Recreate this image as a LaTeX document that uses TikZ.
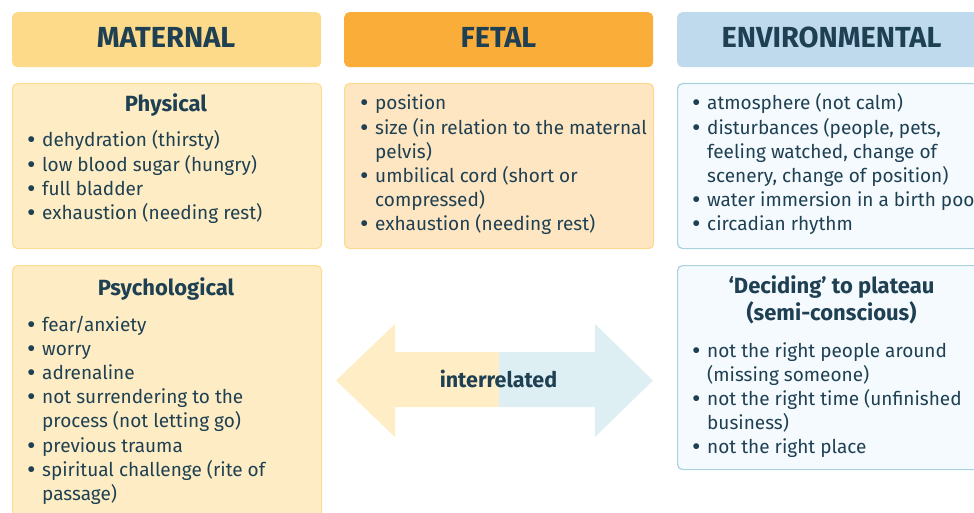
\documentclass[tikz,border=0pt]{standalone}
\usepackage{fontspec}
\setmainfont{Fira Sans}
\definecolor{ink}{RGB}{30,64,82}
\definecolor{hdmat}{RGB}{252,218,138}
\definecolor{hdfet}{RGB}{251,173,58}
\definecolor{hdenv}{RGB}{190,218,236}
\definecolor{matfill}{RGB}{254,237,196}
\definecolor{matline}{RGB}{252,222,150}
\definecolor{fetfill}{RGB}{254,230,194}
\definecolor{fetline}{RGB}{252,219,145}
\definecolor{envfill}{RGB}{244,250,254}
\definecolor{envline}{RGB}{168,210,220}
\definecolor{arrL}{RGB}{254,237,197}
\definecolor{arrR}{RGB}{222,239,244}
\newcommand\bl{\makebox[15pt][l]{\raisebox{-2pt}{\fontsize{26}{26}\selectfont •}}}
\newcommand\ind{\hspace*{15pt}}
\newcommand\bodyfont{\fontsize{19}{24.2}\selectfont}
\tikzset{
  header/.style={rounded corners=5pt, minimum width=309pt, minimum height=55pt, anchor=north west, inner sep=0pt},
  panel/.style={rounded corners=5pt, line width=1.2pt, minimum width=309pt, anchor=north west, inner sep=0pt},
  hdtext/.style={anchor=base, font=\fontsize{29}{29}\selectfont\bfseries, text=ink, inner sep=0pt},
  title/.style={anchor=base, font=\fontsize{22}{22}\selectfont\bfseries, text=ink, inner sep=0pt},
  body/.style={anchor=base west, text=ink, inner sep=0pt},
}
\begin{document}
\begin{tikzpicture}[x=1pt,y=-1pt]
\useasboundingbox (0,0) rectangle (974,513);
% headers
\node[header, fill=hdmat] (hmat) at (12,12) {};
\node[header, fill=hdfet] (hfet) at (344,12) {};
\node[header, fill=hdenv] (henv) at (677,12) {};
\node[hdtext] (tmat) at (166,47.5) {MATERNAL};
\node[hdtext] (tfet) at (498.5,47.5) {FETAL};
\node[hdtext] (tenv) at (831.5,47.5) {ENVIRONMENTAL};
% panels
\node[panel, fill=matfill, draw=matline, minimum height=165pt] (phys) at (12,83) {};
\node[panel, fill=fetfill, draw=fetline, minimum height=165pt] (fet) at (344,83) {};
\node[panel, fill=envfill, draw=envline, minimum height=165pt] (env) at (677,83) {};
\node[panel, fill=matfill, draw=matline, minimum height=270pt] (psy) at (12,265) {};
\node[panel, fill=envfill, draw=envline, minimum height=204pt] (dec) at (677,265) {};
% arrow
\fill[arrL] (499,352) -- (395,352) -- (395,324) -- (336,380.5) -- (395,437) -- (395,407) -- (499,407) -- cycle;
\fill[arrR] (499,352) -- (595,352) -- (595,324) -- (653,380.5) -- (595,437) -- (595,407) -- (499,407) -- cycle;
\node[anchor=base, text=ink, inner sep=0pt, font=\fontsize{21.5}{21.5}\selectfont\bfseries] (inter) at (498.5,387) {interrelated};
% physical
\node[title] (physT) at (166,112) {Physical};
\node[body] (physL) at (27,147) {\parbox[t]{300pt}{\raggedright\bodyfont
\bl dehydration (thirsty)\\
\bl low blood sugar (hungry)\\
\bl full bladder\\
\bl exhaustion (needing rest)}};
% fetal
\node[body] (fetL) at (360,110) {\parbox[t]{300pt}{\raggedright\bodyfont
\bl position\\
\bl size (in relation to the maternal\\
\ind pelvis)\\
\bl umbilical cord (short or\\
\ind compressed)\\
\bl exhaustion (needing rest)}};
% environmental
\node[body] (envL) at (692,110) {\parbox[t]{320pt}{\raggedright\bodyfont
\bl atmosphere (not calm)\\
\bl disturbances (people, pets,\\
\ind feeling watched, change of\\
\ind scenery, change of position)\\
\bl water immersion in a birth pool\\
\bl circadian rhythm}};
% psychological
\node[title] (psyT) at (166,295) {Psychological};
\node[body] (psyL) at (27,331) {\parbox[t]{300pt}{\raggedright\bodyfont
\bl fear/anxiety\\
\bl worry\\
\bl adrenaline\\
\bl not surrendering to the\\
\ind process (not letting go)\\
\bl previous trauma\\
\bl spiritual challenge (rite of\\
\ind passage)}};
% deciding
\node[title] (decT1) at (831.5,293) {‘Deciding’ to plateau};
\node[title] (decT2) at (831.5,320) {(semi-conscious)};
\node[body] (decL) at (692,357) {\parbox[t]{300pt}{\raggedright\bodyfont
\bl not the right people around\\
\ind (missing someone)\\
\bl not the right time (unfinished\\
\ind business)\\
\bl not the right place}};
\end{tikzpicture}
\end{document}
